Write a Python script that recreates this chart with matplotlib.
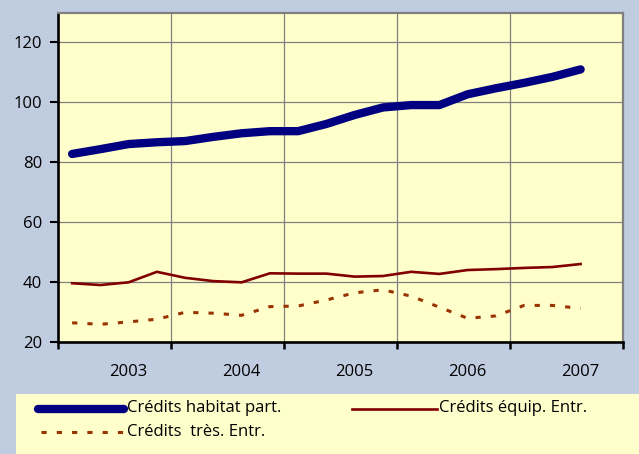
import numpy as np
import matplotlib
matplotlib.use("Agg")
import matplotlib.pyplot as plt
from matplotlib.lines import Line2D
from matplotlib.patches import Rectangle

plt.rcParams['font.family'] = ['Open Sans', 'DejaVu Sans']

# quarterly series (20 quarter slots, last one empty)
habitat = [82.7, 84.3, 86.0, 86.6, 87.0, 88.4, 89.6, 90.3, 90.3, 92.7,
           95.7, 98.2, 99.0, 99.0, 102.6, 104.6, 106.4, 108.4, 110.9]
equip = [39.6, 39.0, 39.9, 43.4, 41.4, 40.3, 39.9, 42.9, 42.8, 42.8,
         41.8, 42.0, 43.4, 42.7, 44.0, 44.3, 44.7, 45.0, 46.0]
treso = [26.4, 25.9, 26.7, 27.6, 29.9, 29.6, 28.9, 31.8, 32.0, 34.0,
         36.4, 37.4, 35.3, 31.6, 27.9, 28.7, 32.2, 32.2, 31.2]
n_slots = 20
years = ['2003', '2004', '2005', '2006', '2007']
year_pos = [2, 6, 10, 14, 18]
labels = ['Crédits habitat part.', 'Crédits équip. Entr.', 'Crédits  très. Entr.']

bg = '#C0CCE0'
plot_bg = '#FFFFCC'
c_hab = '#000080'
c_eq = '#800000'
c_tr = '#993300'
dash = (1.7, 3.3)

W, H = 639, 454
fig = plt.figure(figsize=(W / 100, H / 100), dpi=100, facecolor=bg)
ax = fig.add_axes([58 / W, 1 - 342 / H, 565 / W, 329 / H])
ax.set_facecolor(plot_bg)

x = np.arange(len(habitat))
ax.plot(x, habitat, color=c_hab, lw=6, solid_capstyle='round', solid_joinstyle='round', zorder=4)
ax.plot(x, equip, color=c_eq, lw=1.9, zorder=4)
ax.plot(x, treso, color=c_tr, lw=2.2, dashes=dash, zorder=4)

ax.set_xlim(-0.5, n_slots - 0.5)
ax.set_ylim(20, 129.7)
ax.set_yticks([20, 40, 60, 80, 100, 120])
ax.set_xticks(np.arange(-0.5, n_slots, 4))
ax.set_xticklabels([])
ax.set_xticks(year_pos, minor=True)
ax.set_xticklabels(years, minor=True)
ax.tick_params(axis='x', which='minor', length=0, pad=16, labelsize=12)
ax.tick_params(axis='x', which='major', length=5, width=1.8, direction='out')
ax.tick_params(axis='y', length=5.5, width=1.5, pad=6, labelsize=12)
ax.grid(True, which='major', color='#808080', lw=0.9)
ax.set_axisbelow(True)

for s in ['left', 'bottom']:
    ax.spines[s].set_color('black')
    ax.spines[s].set_linewidth(1.9)
for s in ['top', 'right']:
    ax.spines[s].set_color('#808080')
    ax.spines[s].set_linewidth(1.6)

# legend box
fig.add_artist(Rectangle((15.5 / W, 0), 1, 1 - 393.5 / H, transform=fig.transFigure,
                         facecolor=plot_bg, edgecolor='none'))

def fy(py):
    return 1 - py / H

fig.add_artist(Line2D([38 / W, 124 / W], [fy(408.5)] * 2, color=c_hab, lw=6, solid_capstyle='round'))
fig.text(127 / W, fy(408.5), labels[0], fontsize=12, va='center', ha='left')
fig.add_artist(Line2D([352 / W, 437 / W], [fy(408.5)] * 2, color=c_eq, lw=1.9))
fig.text(439 / W, fy(408.5), labels[1], fontsize=12, va='center', ha='left')
fig.add_artist(Line2D([41 / W, 124 / W], [fy(432)] * 2, color=c_tr, lw=2.2, dashes=dash))
fig.text(127 / W, fy(432), labels[2], fontsize=12, va='center', ha='left')

fig.savefig('out.png', dpi=100, facecolor=bg)
